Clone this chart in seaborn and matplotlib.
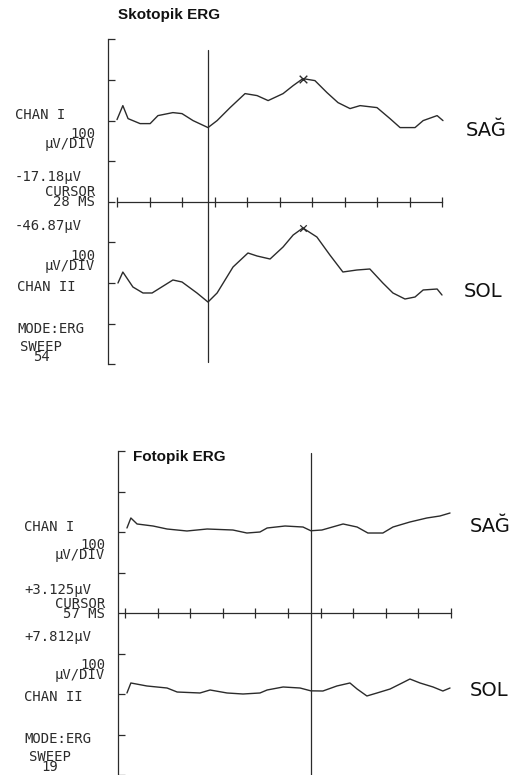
import numpy as np
import pandas as pd
import matplotlib
matplotlib.use("Agg")
import matplotlib.pyplot as plt
import seaborn as sns

# ---------------- data (time in ms, amplitude in µV) ----------------
# Skotopik ERG - Chan I (SAĞ)
skot_t_I = [0, 1.8, 3.4, 7.1, 10.2, 12.6, 17.2, 20.0, 23.4, 28.0, 30.8, 34.8, 39.4, 43.1,
            46.5, 51.1, 54.2, 57.2, 60.9, 64.6, 68.0, 71.7, 74.8, 80.0, 84.0, 87.1, 91.7,
            94.2, 98.5, 100.3]
skot_v_I = [2.5, 36.9, 4.9, -7.4, -7.4, 12.3, 19.7, 17.2, 0.0, -17.2, 0.0, 32.0, 66.5, 61.6,
            49.3, 66.5, 86.2, 103.4, 98.5, 69.0, 44.3, 29.6, 36.9, 32.0, 4.9, -17.2, -17.2,
            0.0, 12.3, 0.0]
# Skotopik ERG - Chan II (SOL)
skot_t_II = [0.3, 1.8, 4.9, 8.0, 10.8, 17.2, 20.0, 24.6, 28.0, 30.8, 35.7, 40.3, 43.1, 47.1,
             51.1, 54.2, 57.2, 61.5, 65.5, 69.5, 73.8, 77.8, 81.8, 84.9, 88.6, 91.7, 94.2,
             98.5, 100.0]
skot_v_II = [0.0, 27.0, -9.9, -24.6, -24.6, 7.4, 2.5, -24.6, -46.9, -24.6, 39.4, 73.9, 66.5,
             59.1, 88.7, 118.2, 135.5, 113.3, 69.0, 27.1, 32.0, 34.5, 0.0, -24.6, -39.4,
             -34.5, -17.2, -14.8, -29.6]
# Fotopik ERG - Chan I (SAĞ)
foto_t_I = [0.6, 1.8, 3.7, 8.6, 12.9, 19.0, 25.2, 33.1, 37.4, 41.4, 43.6, 49.1, 54.6, 57.0,
            60.4, 66.9, 71.2, 74.5, 79.1, 82.2, 87.4, 92.6, 96.6, 99.7]
foto_v_I = [9.9, 34.6, 19.8, 14.8, 7.4, 2.5, 7.4, 4.9, -2.5, 0.0, 9.9, 14.8, 12.3, 3.1,
            4.9, 19.8, 12.3, -2.5, -2.5, 12.3, 24.7, 34.6, 39.5, 46.9]
# Fotopik ERG - Chan II (SOL)
foto_t_II = [0.6, 1.8, 6.7, 12.9, 16.0, 23.0, 26.1, 31.3, 36.2, 41.4, 43.6, 48.5, 53.7, 57.0,
             60.7, 65.0, 69.0, 71.2, 74.2, 77.3, 81.3, 85.0, 87.4, 90.5, 94.5, 97.5, 99.7]
foto_v_II = [2.5, 27.2, 19.8, 14.8, 4.9, 2.5, 9.9, 2.5, 0.0, 2.5, 9.9, 17.3, 14.8, 7.8,
             7.4, 19.8, 27.2, 12.3, -4.9, 2.5, 12.3, 27.2, 37.0, 27.2, 17.3, 7.4, 14.8]

cursor_ms = [28, 57]
titles = ["Skotopik ERG", "Fotopik ERG"]
cursor_uv_I = ["-17.18\u03bcV", "+3.125\u03bcV"]
cursor_uv_II = ["-46.87\u03bcV", "+7.812\u03bcV"]
sweeps = ["54", "19"]
eye_labels = ["SA\u011e", "SOL"]
time_ticks = list(range(0, 101, 10))
amp_ticks = list(range(-200, 601, 100))
chan_offset = 400  # Chan I is drawn 4 divisions (100 µV/div) above Chan II

# ---------------- figure ----------------
W, H = 515, 775
sns.set_style("white")
plt.rcParams["font.family"] = ["DejaVu Sans"]
fig = plt.figure(figsize=(W / 100, H / 100), dpi=100)
fig.patch.set_facecolor("white")

ink = "#2b2b2b"
mono = "DejaVu Sans Mono"
msize = 10


def fx(x):
    return x / W


def fy(y):
    return 1 - y / H


def panel(rect, xlim, tI, vI, tII, vII, cursor, cur_ymin, cur_ymax, markers):
    ax = fig.add_axes(rect)
    ax.set_facecolor("none")
    dI = pd.DataFrame({"t": tI, "v": np.asarray(vI) + chan_offset})
    dII = pd.DataFrame({"t": tII, "v": vII})
    sns.lineplot(data=dI, x="t", y="v", ax=ax, color=ink, lw=1.0, sort=False, estimator=None)
    sns.lineplot(data=dII, x="t", y="v", ax=ax, color=ink, lw=1.0, sort=False, estimator=None)
    ax.axvline(cursor, ymin=cur_ymin, ymax=cur_ymax, color=ink, lw=0.9)
    if markers:
        iI = int(np.argmax(vI))
        iII = int(np.argmax(vII))
        ax.scatter([tI[iI]], [vI[iI] + chan_offset], marker="x", s=30, color=ink, lw=1.0, zorder=5)
        ax.scatter([tII[iII]], [vII[iII]], marker="x", s=22, color=ink, lw=0.9, zorder=5)
    ax.set_xlim(*xlim)
    ax.set_ylim(-200, 600)
    ax.set_xlabel("")
    ax.set_ylabel("")
    for s in ["top", "right"]:
        ax.spines[s].set_visible(False)
    ax.spines["left"].set_bounds(-200, 600)
    ax.spines["bottom"].set_position(("data", 200))
    ax.spines["bottom"].set_bounds(0, 100)
    for s in ["left", "bottom"]:
        ax.spines[s].set_color(ink)
        ax.spines[s].set_linewidth(0.9)
    ax.set_xticks(time_ticks)
    ax.set_yticks(amp_ticks)
    ax.tick_params(axis="x", direction="inout", length=7, width=0.9, color=ink,
                   labelbottom=False, bottom=True)
    ax.tick_params(axis="y", direction="in", length=5, width=0.9, color=ink,
                   labelleft=False, left=True)
    return ax


# top panel: x px = 117 + 3.25*t ; y px = 283 - 0.406*v
top_left, top_right = 117 - 3.25 * 2.8, 117 + 3.25 * 101
top_top, top_bot = 283 - 0.406 * 600, 283 + 0.406 * 200
panel([fx(top_left), fy(top_bot), (top_right - top_left) / W, (top_bot - top_top) / H],
      (-2.8, 101), skot_t_I, skot_v_I, skot_t_II, skot_v_II, cursor_ms[0], 0.006, 0.967, True)

# bottom panel: x px = 125 + 3.26*t ; y px = 694 - 0.405*v
b_left, b_right = 125 - 3.26 * 2.15, 125 + 3.26 * 101
b_top, b_bot = 694 - 0.405 * 600, 694 + 0.405 * 200
panel([fx(b_left), fy(b_bot), (b_right - b_left) / W, (b_bot - b_top) / H],
      (-2.15, 101), foto_t_I, foto_v_I, foto_t_II, foto_v_II, cursor_ms[1], 0.0, 0.995, False)


def mtext(x, y, s, ha="left", ls=1.0):
    fig.text(fx(x), fy(y), s, family=mono, fontsize=msize, color=ink, ha=ha, va="center",
             multialignment=ha, linespacing=ls)


# ---- top panel texts ----
fig.text(fx(118), fy(15), titles[0], family="Liberation Sans", fontweight="bold",
         fontsize=11, color="#111111", ha="left", va="center")
mtext(15, 115, "CHAN I")
mtext(95, 139, "100\n\u03bcV/DIV", ha="right", ls=0.7)
mtext(15, 177, cursor_uv_I[0])
mtext(95, 197, f"CURSOR\n{cursor_ms[0]} MS", ha="right", ls=0.6)
mtext(15, 226, cursor_uv_II[0])
mtext(95, 261, "100\n\u03bcV/DIV", ha="right", ls=0.7)
mtext(17, 287, "CHAN II")
mtext(17, 329, "MODE:ERG")
mtext(41, 352, f"SWEEP\n{sweeps[0]}", ha="center", ls=0.7)
fig.text(fx(466), fy(130), eye_labels[0], fontsize=14, color="#111111", ha="left", va="center")
fig.text(fx(464), fy(292), eye_labels[1], fontsize=14, color="#111111", ha="left", va="center")

# ---- bottom panel texts ----
fig.text(fx(133), fy(457), titles[1], family="Liberation Sans", fontweight="bold",
         fontsize=11, color="#111111", ha="left", va="center")
mtext(24, 527, "CHAN I")
mtext(105, 550, "100\n\u03bcV/DIV", ha="right", ls=0.7)
mtext(24, 590, cursor_uv_I[1])
mtext(105, 609, f"CURSOR\n{cursor_ms[1]} MS", ha="right", ls=0.6)
mtext(24, 637, cursor_uv_II[1])
mtext(105, 670, "100\n\u03bcV/DIV", ha="right", ls=0.7)
mtext(24, 697, "CHAN II")
mtext(24, 739, "MODE:ERG")
mtext(50, 762, f"SWEEP\n{sweeps[1]}", ha="center", ls=0.7)
fig.text(fx(470), fy(527), eye_labels[0], fontsize=14, color="#111111", ha="left", va="center")
fig.text(fx(470), fy(690), eye_labels[1], fontsize=14, color="#111111", ha="left", va="center")

fig.savefig("out.png", dpi=100, facecolor="white")
